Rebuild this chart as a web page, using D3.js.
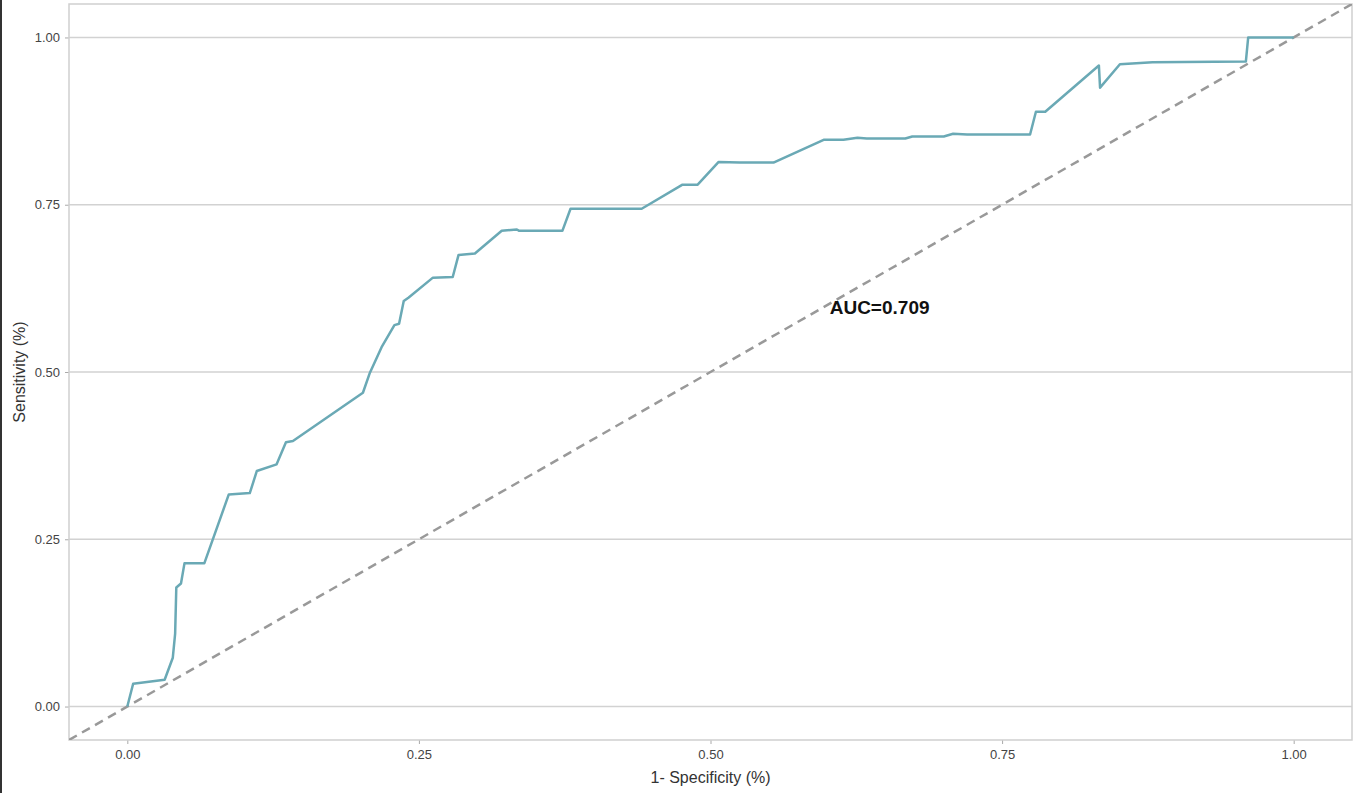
<!DOCTYPE html>
<html>
<head>
<meta charset="utf-8">
<script src="https://cdn.jsdelivr.net/npm/d3@7"></script>
<style>
  html, body { margin: 0; padding: 0; background: #fff; }
  svg { display: block; font-family: "Liberation Sans", Arial, sans-serif; }
</style>
</head>
<body>
<svg id="chart" width="1357" height="793"></svg>
<script>
// ROC curve: false positive rate (1 - specificity) and sensitivity
const fpr = [0, 0.005, 0.032, 0.039, 0.041, 0.042, 0.046, 0.049, 0.066, 0.087, 0.105, 0.111, 0.128, 0.136, 0.142,
  0.202, 0.208, 0.218, 0.229, 0.233, 0.237, 0.241, 0.262, 0.279, 0.284, 0.298, 0.321, 0.334, 0.336, 0.373,
  0.380, 0.441, 0.476, 0.489, 0.507, 0.525, 0.554, 0.597, 0.614, 0.626, 0.634, 0.667, 0.673, 0.700, 0.708,
  0.720, 0.774, 0.779, 0.787, 0.833, 0.834, 0.851, 0.879, 0.959, 0.961, 0.978, 1.0];
const tpr = [0, 0.034, 0.040, 0.073, 0.109, 0.178, 0.184, 0.214, 0.214, 0.317, 0.319, 0.352, 0.362, 0.395, 0.397,
  0.469, 0.499, 0.537, 0.570, 0.572, 0.606, 0.611, 0.641, 0.642, 0.675, 0.677, 0.711, 0.713, 0.711, 0.711,
  0.744, 0.744, 0.780, 0.780, 0.814, 0.813, 0.813, 0.847, 0.847, 0.850, 0.849, 0.849, 0.852, 0.852, 0.856,
  0.855, 0.855, 0.889, 0.889, 0.958, 0.925, 0.960, 0.963, 0.964, 1.0, 1.0, 1.0];
const xTicks = [0, 0.25, 0.5, 0.75, 1.0];
const yTicks = [0, 0.25, 0.5, 0.75, 1.0];
const aucLabel = "AUC=0.709";
const aucPos = [0.645, 0.594];
const xTitle = "1- Specificity (%)";
const yTitle = "Sensitivity (%)";

const svg = d3.select("#chart");
const panel = { left: 69, right: 1352, top: 4, bottom: 740 };

const x = d3.scaleLinear().domain([-0.05, 1.05]).range([panel.left, panel.right]);
const y = d3.scaleLinear().domain([-0.05, 1.05]).range([panel.bottom, panel.top]);

// screenshot left edge border
svg.append("rect").attr("x", 0).attr("y", 0).attr("width", 2).attr("height", 793).attr("fill", "#333");

// gridlines (horizontal only)
svg.append("g").selectAll("line").data(yTicks).join("line")
  .attr("x1", panel.left).attr("x2", panel.right)
  .attr("y1", d => y(d)).attr("y2", d => y(d))
  .attr("stroke", "#d2d2d2").attr("stroke-width", 1.5);

// axes
const fmt = d3.format(".2f");
const xAxis = svg.append("g").attr("transform", `translate(0,${panel.bottom})`)
  .call(d3.axisBottom(x).tickValues(xTicks).tickFormat(fmt).tickSize(4).tickPadding(6));
const yAxis = svg.append("g").attr("transform", `translate(${panel.left},0)`)
  .call(d3.axisLeft(y).tickValues(yTicks).tickFormat(fmt).tickSize(4).tickPadding(5));
[xAxis, yAxis].forEach(a => {
  a.select(".domain").remove();
  a.selectAll(".tick line").attr("stroke", "#aaa");
  a.selectAll(".tick text").attr("fill", "#444").style("font-size", "13px")
    .style("font-family", "'Liberation Sans', Arial, sans-serif");
});

// panel border
svg.append("rect")
  .attr("x", panel.left).attr("y", panel.top)
  .attr("width", panel.right - panel.left).attr("height", panel.bottom - panel.top)
  .attr("fill", "none").attr("stroke", "#cfcfcf").attr("stroke-width", 1.5);

// clip
svg.append("clipPath").attr("id", "clip").append("rect")
  .attr("x", panel.left).attr("y", panel.top)
  .attr("width", panel.right - panel.left).attr("height", panel.bottom - panel.top);

// diagonal reference line
svg.append("line").attr("clip-path", "url(#clip)")
  .attr("x1", x(-0.05)).attr("y1", y(-0.05)).attr("x2", x(1.05)).attr("y2", y(1.05))
  .attr("stroke", "#999").attr("stroke-width", 2.5).attr("stroke-dasharray", "9,6");

// ROC curve
const pts = fpr.map((d, i) => [d, tpr[i]]);
svg.append("path").datum(pts)
  .attr("d", d3.line().x(d => x(d[0])).y(d => y(d[1])))
  .attr("fill", "none").attr("stroke", "#6aa9b5").attr("stroke-width", 2.5)
  .attr("stroke-linejoin", "round");

// AUC label
svg.append("text").attr("x", x(aucPos[0])).attr("y", y(aucPos[1]))
  .attr("text-anchor", "middle").attr("dominant-baseline", "middle")
  .attr("font-weight", "bold").attr("font-size", 19).attr("fill", "#111")
  .text(aucLabel);

// axis titles
svg.append("text").attr("x", (panel.left + panel.right) / 2).attr("y", 783)
  .attr("text-anchor", "middle").attr("font-size", 16).attr("fill", "#333").text(xTitle);
svg.append("text").attr("transform", `translate(25,${(panel.top + panel.bottom) / 2}) rotate(-90)`)
  .attr("text-anchor", "middle").attr("font-size", 16).attr("fill", "#333").text(yTitle);
</script>
</body>
</html>
